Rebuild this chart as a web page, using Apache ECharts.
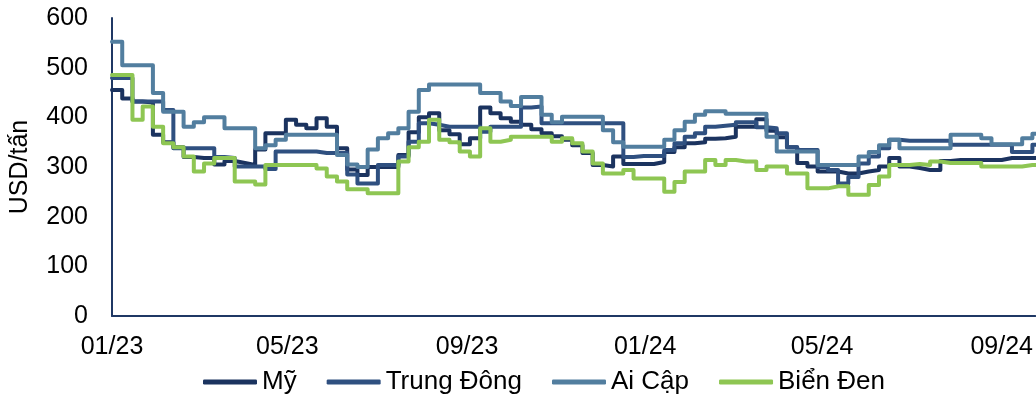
<!DOCTYPE html>
<html>
<head>
<meta charset="utf-8">
<script src="https://cdn.jsdelivr.net/npm/echarts@6/dist/echarts.min.js"></script>
<style>
html,body{margin:0;padding:0;background:#fff;}
#c{width:1036px;height:400px;}
</style>
</head>
<body>
<div id="c"></div>
<script>
// X axis: days since 01/01/2023; weekly observations
const tickLabels = ['01/23', '05/23', '09/23', '01/24', '05/24', '09/24'];
const tickDays = [0, 120, 243, 365, 486, 609];
const seriesNames = ['Mỹ', 'Trung Đông', 'Ai Cập', 'Biển Đen'];

// Weekly prices, USD/tấn
const my = [455,438,432,430,365,350,340,320,318,318,
  305,312,308,304,335,368,368,395,385,378,
  398,381,338,295,284,300,300,300,324,370,
  400,408,374,366,346,358,420,408,398,391,
  385,376,368,362,355,344,328,304,301,321,
  306,306,306,310,330,340,348,350,357,358,
  361,381,381,396,373,360,340,308,301,291,
  291,287,287,291,294,301,318,301,298,294,
  294,312,314,314,314,314,314,318,318,318,
  318,318];
const trungDong = [479,479,432,432,432,415,338,338,338,338,
  320,318,301,301,301,296,331,331,331,331,
  328,328,328,285,267,267,304,304,321,351,
  388,385,381,381,381,381,371,381,381,381,
  420,422,388,388,388,388,388,388,388,388,
  320,322,322,322,334,348,361,368,381,383,
  385,390,390,380,378,368,340,334,334,300,
  294,267,280,307,321,338,355,353,353,353,
  353,353,345,345,345,345,345,345,330,330,
  345,345];
const aiCap = [552,505,505,505,449,411,411,381,390,400,
  400,378,378,378,338,344,355,365,365,365,
  365,365,324,305,300,335,358,368,378,411,
  455,466,466,466,466,466,449,449,432,423,
  441,441,405,390,401,401,401,401,374,350,
  341,341,341,341,355,374,391,405,412,412,
  407,407,407,407,361,331,331,331,331,304,
  304,304,304,321,330,344,355,338,338,338,
  338,338,365,365,365,358,346,346,346,358,
  367,367];
const bienDen = [485,485,395,422,381,348,340,321,291,307,
  318,318,271,271,265,304,304,304,304,304,
  297,281,271,255,255,247,247,247,311,340,
  351,395,355,350,331,321,378,351,355,361,
  361,361,361,351,358,348,331,307,287,287,
  294,277,277,277,250,270,291,291,314,304,
  314,311,311,294,301,301,287,287,257,257,
  261,261,244,244,264,281,304,304,306,304,
  311,308,308,308,308,301,301,301,301,304,
  304,304];

const colors = ['#1b335f', '#2f5080', '#527e9f', '#8ec653'];
const font = '"Liberation Sans", Arial, sans-serif';
const fs = 25;

function pairs(vals) { return vals.map((v, i) => [i * 7, v]); }

const chart = echarts.init(document.getElementById('c'), null, {renderer: 'canvas'});
const data = [my, trungDong, aiCap, bienDen];
chart.setOption({
  animation: false,
  color: colors,
  grid: {left: 112, right: 0, top: 18, bottom: 84, containLabel: false},
  legend: {
    bottom: 0, left: 198,
    icon: 'roundRect', itemWidth: 54, itemHeight: 5, itemGap: 30,
    textStyle: {fontFamily: font, fontSize: 26, color: '#000'},
    data: seriesNames
  },
  xAxis: {
    type: 'value', min: 0, max: 632,
    axisLine: {show: true, lineStyle: {color: '#1f3864', width: 2}},
    axisTick: {show: false},
    splitLine: {show: false},
    axisLabel: {
      customValues: tickDays,
      formatter: (v) => tickLabels[tickDays.indexOf(v)] || '',
      fontFamily: font, fontSize: fs, color: '#000', margin: 19
    }
  },
  yAxis: {
    type: 'value', min: 0, max: 600, interval: 100,
    name: 'USD/tấn', nameLocation: 'middle', nameGap: 79, nameRotate: 90,
    nameTextStyle: {fontFamily: font, fontSize: fs, color: '#000'},
    axisLine: {show: true, lineStyle: {color: '#1f3864', width: 2}},
    axisTick: {show: false},
    splitLine: {show: false},
    axisLabel: {fontFamily: font, fontSize: fs, color: '#000', margin: 24}
  },
  series: data.map((d, i) => ({
    name: seriesNames[i], type: 'line', step: 'end',
    data: pairs(d), showSymbol: false, symbol: 'none',
    lineStyle: {width: 4, color: colors[i], join: 'round', cap: 'round'},
    z: 2 + i
  }))
});
</script>
</body>
</html>
